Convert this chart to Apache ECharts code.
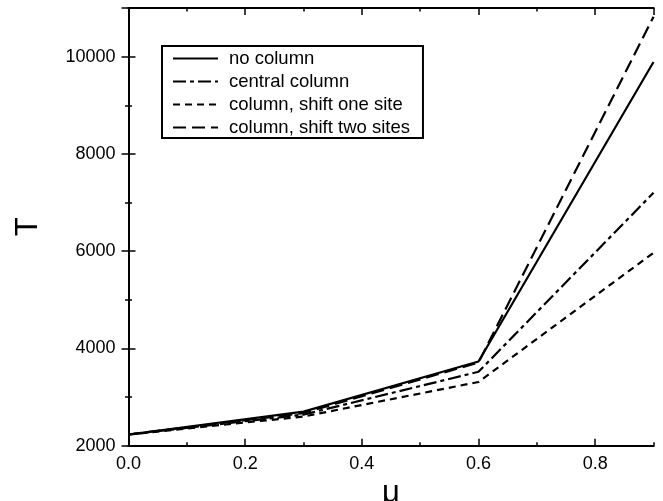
<!DOCTYPE html>
<html>
<head>
<meta charset="utf-8">
<script src="https://cdn.jsdelivr.net/npm/echarts@6/dist/echarts.min.js"></script>
<style>
  html, body { margin: 0; padding: 0; background: #fff; }
  #chart { width: 663px; height: 501px; }
</style>
</head>
<body>
<div id="chart"></div>
<script>
// Transition temperature T against chemical potential mu
const muValues = [0, 0.3, 0.6, 0.9];
const noColumn = [2230, 2700, 3730, 9890];
const centralColumn = [2230, 2640, 3520, 7200];
const shiftOneSite = [2230, 2600, 3310, 5965];
const shiftTwoSites = [2230, 2670, 3710, 10820];
const seriesNames = ['no column', 'central column', 'column, shift one site', 'column, shift two sites'];

const FONT = '"Liberation Sans", Arial, Helvetica, sans-serif';
const INK = '#000';

function pairs(ys) { return muValues.map((x, i) => [x, ys[i]]); }

// frame axis helpers: major ticks with labels, minor ticks without
function xAx(pos, interval, tickLen, withLabels) {
  return {
    type: 'value', position: pos, min: 0, max: 0.9, interval: interval,
    axisLine: { show: true, lineStyle: { color: INK, width: 2 } },
    axisTick: { show: true, inside: true, length: tickLen, lineStyle: { color: INK, width: 1.5 } },
    axisLabel: withLabels ? {
      show: true, showMaxLabel: false, color: INK, fontSize: 18, fontFamily: FONT, margin: 9,
      formatter: v => v.toFixed(1)
    } : { show: false },
    splitLine: { show: false }
  };
}
function yAx(pos, interval, tickLen, withLabels) {
  return {
    type: 'value', position: pos, min: 2000, max: 11000, interval: interval,
    axisLine: { show: true, lineStyle: { color: INK, width: 2 } },
    axisTick: { show: true, inside: true, length: tickLen, lineStyle: { color: INK, width: 1.5 } },
    axisLabel: withLabels ? {
      show: true, showMaxLabel: false, color: INK, fontSize: 18, fontFamily: FONT, margin: 13,
      formatter: v => String(v)
    } : { show: false },
    splitLine: { show: false }
  };
}

const xMain = Object.assign(xAx('bottom', 0.2, 7, true), {
  name: 'μ', nameLocation: 'middle', nameGap: 13,
  nameTextStyle: { color: INK, fontSize: 31, fontFamily: FONT }
});
const yMain = Object.assign(yAx('left', 2000, 7, true), {
  name: 'T', nameLocation: 'middle', nameGap: 85, nameRotate: 90,
  nameTextStyle: { color: INK, fontSize: 31, fontFamily: FONT }
});

const dashes = ['solid', [13, 4, 4, 4], [7, 5], [13, 6]];
const values = [noColumn, centralColumn, shiftOneSite, shiftTwoSites];

const chart = echarts.init(document.getElementById('chart'), null, { renderer: 'canvas' });
chart.setOption({
  animation: false,
  backgroundColor: '#fff',
  grid: { left: 128.5, right: 9.5, top: 8, bottom: 55.3, containLabel: false, outerBoundsMode: 'none' },
  xAxis: [xMain, xAx('bottom', 0.1, 3.5, false), xAx('top', 0.2, 7, false), xAx('top', 0.1, 3.5, false)],
  yAxis: [yMain, yAx('left', 1000, 3.5, false), yAx('right', 2000, 7, false), yAx('right', 1000, 3.5, false)],
  legend: {
    orient: 'vertical', left: 162, top: 46,
    data: seriesNames,
    itemWidth: 45, itemHeight: 14, itemGap: 4,
    padding: [3, 13, 1, 10],
    borderColor: INK, borderWidth: 2,
    textStyle: { color: INK, fontSize: 18.5, fontFamily: FONT, padding: [0, 0, 0, 6] },
    selectedMode: false
  },
  series: seriesNames.map((name, i) => ({
    name: name, type: 'line', xAxisIndex: 0, yAxisIndex: 0,
    data: pairs(values[i]),
    symbol: 'none',
    itemStyle: { color: 'rgba(0,0,0,0)' },
    lineStyle: { color: INK, width: 2.2, type: dashes[i] },
    z: 3
  }))
});
</script>
</body>
</html>
